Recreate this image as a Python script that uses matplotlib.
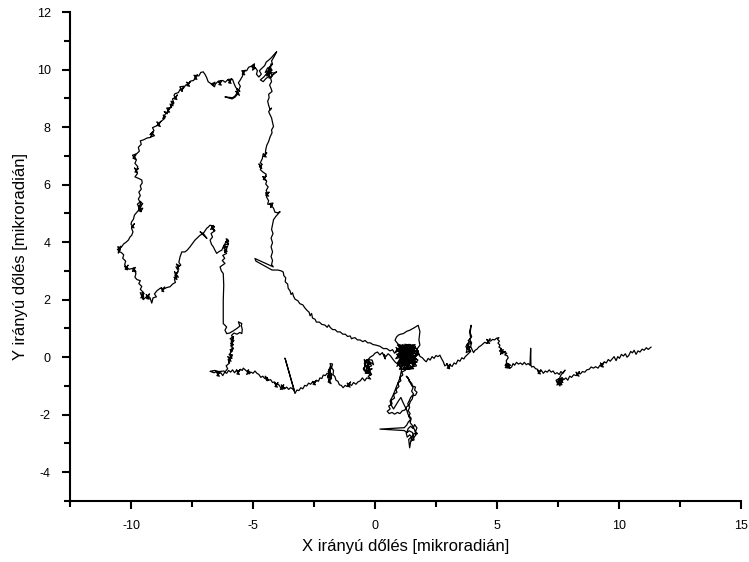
import numpy as np
import matplotlib
matplotlib.use("Agg")
import matplotlib.pyplot as plt
from matplotlib.ticker import MultipleLocator

plt.rcParams['font.family'] = ['Liberation Sans', 'DejaVu Sans']
plt.rcParams['axes.unicode_minus'] = False

# Tilt trajectory segments (x, y) in microradians
tail = [(11.31,0.35),(11.20,0.27),(11.12,0.33),(11.03,0.24),(10.95,0.28),(10.86,0.18),(10.78,0.22),
        (10.70,0.10),(10.62,0.24),(10.55,0.15),(10.48,0.20),(10.40,0.06),(10.33,0.0),(10.26,0.12),
        (10.18,0.04),(10.10,0.10),(10.02,-0.04),(9.95,0.02),(9.88,-0.12),(9.80,0.02),(9.72,-0.06),
        (9.64,-0.14),(9.56,-0.08),(9.48,-0.20),(9.40,-0.16),(9.32,-0.26),(9.38,-0.18),(9.26,-0.32),
        (9.36,-0.34),(9.24,-0.20),(9.30,-0.30),(9.22,-0.28),(9.14,-0.38),
        (9.04,-0.33),(8.95,-0.38),(8.86,-0.34),(8.78,-0.42),(8.68,-0.44),(8.60,-0.52),(8.50,-0.50),
        (8.42,-0.58),(8.32,-0.56),(8.38,-0.50),(8.26,-0.62),(8.36,-0.66),(8.24,-0.52),(8.30,-0.60),
        (8.25,-0.64),(8.14,-0.61),(8.06,-0.70),(7.98,-0.66),(7.90,-0.80),
        (7.82,-0.72),(7.74,-0.78),(7.66,-0.70),(7.60,-0.86),(7.52,-0.80),(7.46,-0.97),(7.60,-0.80),
        (7.48,-0.92),(7.66,-0.96),(7.52,-0.76),(7.70,-0.88),(7.44,-0.84),(7.58,-1.00),(7.62,-0.74),
        (7.56,-0.92),(7.50,-0.84),(7.64,-0.90),(7.70,-0.78),(7.58,-0.76),(7.66,-0.84),(7.48,-0.88),
        (7.42,-0.80),(7.56,-0.74),(7.62,-0.62),(7.79,-0.45),(7.70,-0.56),(7.62,-0.50),(7.55,-0.60),
        (7.46,-0.54),(7.38,-0.58),(7.30,-0.48),(7.22,-0.52),(7.14,-0.44),(7.06,-0.52),(6.98,-0.48),
        (6.90,-0.56),(6.82,-0.46),(6.74,-0.52),(6.80,-0.44),(6.68,-0.56),(6.78,-0.58),(6.66,-0.46),
        (6.72,-0.50),(6.66,-0.42),(6.58,-0.40),(6.50,-0.32),(6.42,-0.34),
        (6.39,-0.28),(6.38,0.31),(6.35,-0.28),(6.28,-0.22),(6.20,-0.26),(6.12,-0.18),(6.04,-0.26),
        (5.96,-0.20),(5.88,-0.24),(5.80,-0.18),(5.72,-0.28),(5.66,-0.22),(5.60,-0.34),(5.53,-0.38),
        (5.46,-0.26),(5.50,-0.34),(5.40,-0.36),(5.36,-0.24),(5.44,-0.30),(5.33,-0.28),(5.48,-0.22),
        (5.34,-0.36),(5.52,-0.38),(5.38,-0.20),(5.56,-0.28),(5.42,-0.32),(5.38,-0.12),(5.46,-0.02),
        (5.42,0.05),(5.32,0.08),(5.40,0.14),(5.28,0.16),(5.34,0.20),(5.22,0.18),(5.14,0.10),
        (5.26,0.26),(5.10,0.22),(5.24,0.12),(5.16,0.30),(5.14,0.24),(5.18,0.30),(5.08,0.35),
        (5.12,0.42),(5.04,0.49),(5.10,0.56),(5.02,0.62),(5.08,0.68),(4.98,0.66),(4.90,0.60),
        (4.82,0.62),(4.74,0.56),(4.66,0.58),(4.72,0.64),(4.60,0.50),(4.70,0.48),(4.58,0.62),
        (4.64,0.54),(4.58,0.48),(4.50,0.52),(4.42,0.46),(4.34,0.40),
        (4.26,0.36),(4.18,0.28),(4.10,0.24),(4.04,0.16),(3.98,0.26),(3.92,0.38),(3.96,0.50),
        (3.88,0.62),(3.96,0.72),(3.90,0.85),(3.94,1.11),(3.88,0.90),(3.92,0.66),(3.82,0.58),
        (3.94,0.48),(3.80,0.44),(3.90,0.34),(3.76,0.30),(3.88,0.22),(3.74,0.16),(3.84,0.52),
        (3.72,0.36),(3.86,0.28),(3.78,0.46),(3.92,0.20),(3.80,0.10),(3.70,0.02),(3.64,-0.06),
        (3.56,-0.02),(3.48,-0.14),(3.40,-0.10),(3.32,-0.24),(3.24,-0.20),(3.16,-0.32),(3.08,-0.28),
        (3.02,-0.36),(3.08,-0.24),(2.96,-0.38),(3.06,-0.40),(2.94,-0.22),(3.00,-0.30),
        (2.94,-0.26),(2.86,-0.30),(2.80,-0.16),(2.72,-0.04),(2.66,0.07),(2.58,0.02),
        (2.50,0.06),(2.42,-0.04),(2.34,0.02),(2.26,-0.10),(2.18,-0.04),(2.10,-0.16),(2.02,-0.10),
        (1.94,-0.02),(1.84,0.03)]

hub = [(1.84,0.03),(1.72,0.28),(1.84,0.42),(1.80,0.60),(1.84,0.89),(1.77,1.11),(1.60,1.02),
       (1.43,0.94),(1.30,0.90),(1.16,0.82),(1.05,0.80),(0.96,0.77),(0.88,0.70),(0.82,0.59),
       (0.95,0.45),(1.20,0.38),(1.05,0.20),(1.40,0.45),(1.55,0.12),(1.30,-0.08),(1.65,-0.22),
       (1.45,0.28),(1.10,-0.05),(1.25,0.42),(1.72,0.16),(1.50,-0.38),(1.20,-0.25),(1.62,0.32),
       (0.95,0.12),(1.36,0.22),(1.00,-0.30),(1.42,-0.42),(1.76,-0.10),(1.15,0.27),(0.85,-0.05),
       (1.30,0.06),(1.56,0.42),(1.05,0.36),(1.50,-0.16),(1.20,0.12),(0.90,0.28),(1.36,-0.30),
       (1.62,0.05),(1.10,-0.20),(1.48,0.36),(1.18,-0.42),(1.70,-0.30),(1.28,0.30),(0.92,-0.20),
       (1.58,0.20),(1.02,0.05),(1.44,-0.05),(1.22,0.45),(1.66,0.38),(1.34,-0.40),(0.98,0.38),
       (1.52,0.00),(1.12,0.18),(1.80,0.10),(1.26,-0.18),(1.40,0.12),(0.88,0.10),(1.60,-0.28),
       (1.18,0.32),(1.46,0.44),(1.06,-0.36),(1.74,0.30),(1.32,0.36),(0.84,0.20),(1.14,0.44),
       (1.68,-0.06),(1.02,-0.18),(1.38,0.40),(0.90,-0.32),(1.54,0.26),(1.28,-0.36),(1.78,0.22),
       (0.96,0.02),(1.46,-0.22),(1.16,0.06),(1.64,0.44),(1.08,0.30),(1.34,-0.14),(0.86,0.34),
       (1.72,-0.18),(1.24,0.20),(1.50,0.32),(1.00,-0.42),(1.58,-0.40),(1.20,-0.10),(1.42,0.28),
       (0.92,0.42),(1.66,0.00),(1.14,-0.30),(1.36,0.08),(1.56,-0.08),(1.04,0.24),(1.30,-0.26),
       (1.25,-0.45)]

branch = [(1.25,-0.45),(1.10,-0.52),(1.14,-0.62),(1.02,-0.70),(1.06,-0.82),(0.94,-0.90),(0.98,-1.02),
          (0.86,-1.12),(0.90,-1.22),(0.76,-1.30),(0.80,-1.42),(0.66,-1.50),(0.70,-1.62),(0.56,-1.70),
          (0.62,-1.80),(0.50,-1.88),(0.58,-1.96),(0.70,-1.92),(0.80,-1.98),(0.92,-1.92),(1.02,-1.96),
          (1.12,-1.86),(1.22,-1.84),(1.30,-1.72),(1.40,-1.66),(1.45,-1.54),(1.52,-1.46),(1.56,-1.34),
          (1.66,-1.32),(1.72,-1.22),(1.62,-1.14),(1.66,-1.04),(1.54,-1.00),(1.50,-0.90),(1.40,-0.84),
          (1.36,-0.72),(1.28,-0.66),(1.40,-0.78),(1.46,-0.92),(1.56,-1.06),(1.50,-1.18),(1.58,-1.28),
          (1.46,-1.40),(1.40,-1.52),(1.34,-1.62),(1.42,-1.74),(1.36,-1.86),(1.44,-1.96),(1.38,-2.06),
          (1.46,-2.16),(1.36,-2.26),(1.30,-2.36),(1.20,-2.45),(0.20,-2.50),(1.20,-2.55),(1.30,-2.62),
          (1.36,-2.48),(1.46,-2.40),(1.56,-2.48),(1.62,-2.34),(1.72,-2.46),(1.66,-2.58),(1.74,-2.66),
          (1.60,-2.66),(1.52,-2.78),(1.42,-2.70),(1.32,-2.78),(1.28,-2.64),(1.40,-2.56),(1.54,-2.62),
          (1.60,-2.88),(1.48,-2.90),(1.50,-2.76),(1.38,-2.86),(1.42,-3.15),(1.46,-2.94),(1.56,-2.82),
          (1.68,-2.70),(1.62,-2.52),(1.52,-2.36),(1.44,-2.28),(1.48,-2.12),(1.36,-2.00),(1.30,-1.84),
          (1.22,-1.70),(1.14,-1.56),(1.06,-1.40),(0.96,-1.52),(0.86,-1.66),(0.76,-1.80),(0.66,-1.66),
          (0.62,-1.52),(0.72,-1.36),(0.80,-1.20),(0.88,-1.02),(0.96,-0.86),(1.02,-0.72),(1.06,-0.56),
          (1.10,-0.40)]

lower = [(1.10,-0.40),(0.96,-0.26),(0.84,-0.18),(0.74,-0.08),(0.64,0.04),(0.54,0.12),(0.44,0.02),
         (0.36,0.10),(0.42,-0.06),(0.30,0.16),(0.20,0.08),(0.10,0.18),(0.00,0.14),(-0.08,0.06),
         (-0.20,0.00),(-0.30,-0.10),(-0.14,-0.30),(-0.36,-0.36),(-0.22,-0.14),(-0.44,-0.22),
         (-0.26,-0.46),(-0.12,-0.40),(-0.40,-0.56),(-0.30,-0.28),(-0.18,-0.62),(-0.46,-0.44),
         (-0.34,-0.08),(-0.12,-0.10),(-0.06,-0.26),(-0.18,-0.18),(-0.28,-0.30),(-0.20,-0.42),
         (-0.38,-0.50),(-0.30,-0.20),(-0.44,-0.08),(-0.40,-0.30),(-0.48,-0.40),(-0.34,-0.56),
         (-0.22,-0.48),(-0.14,-0.60),(-0.28,-0.66),(-0.18,-0.76),(-0.34,-0.72),(-0.42,-0.82),
         (-0.52,-0.72),(-0.60,-0.82),(-0.70,-0.86),(-0.78,-0.94),(-0.88,-0.88),(-0.96,-0.98),
         (-1.06,-0.94),(-1.00,-0.86),(-1.12,-1.00),(-1.02,-1.04),(-1.14,-0.90),(-1.06,-0.96),
         (-1.14,-1.02),(-1.22,-0.98),(-1.31,-1.06),(-1.38,-0.98),(-1.46,-0.96),
         (-1.52,-0.84),(-1.60,-0.80),(-1.64,-0.68),(-1.72,-0.60),(-1.70,-0.46),(-1.78,-0.36),
         (-1.74,-0.24),(-1.84,-0.22),(-1.80,-0.40),(-1.90,-0.46),(-1.82,-0.58),(-1.94,-0.66),
         (-1.84,-0.74),(-1.92,-0.86),(-1.80,-0.92),(-1.88,-0.78),(-1.76,-0.62),(-1.92,-0.50),
         (-1.82,-0.30),(-1.90,-0.84),(-1.78,-0.74),(-1.86,-0.42),(-1.94,-0.72),(-1.80,-0.56),
         (-1.86,-0.60),(-1.96,-0.56),(-2.04,-0.64),(-2.12,-0.62),(-2.18,-0.74),(-2.26,-0.72),
         (-2.32,-0.84),(-2.40,-0.80),(-2.48,-0.90),(-2.42,-0.82),(-2.54,-0.94),(-2.44,-0.96),
         (-2.56,-0.84),(-2.48,-0.88),(-2.56,-0.86),(-2.64,-0.94),(-2.72,-0.90),
         (-2.80,-1.00),(-2.88,-0.98),(-2.96,-1.10),(-3.04,-1.06),(-3.12,-1.16),(-3.20,-1.14),
         (-3.28,-1.26),(-3.69,-0.03),(-3.30,-1.18),(-3.38,-1.10),(-3.46,-1.06),(-3.54,-1.12),
         (-3.62,-1.04),(-3.72,-1.10),(-3.80,-1.02),(-3.74,-0.96),(-3.88,-1.12),(-3.70,-1.08),
         (-3.84,-0.96),(-3.78,-1.10),(-3.88,-1.04),(-3.96,-0.94),(-4.04,-0.96),(-3.98,-0.88),
         (-4.10,-1.02),(-4.00,-1.04),(-4.12,-0.90),(-4.04,-0.94),(-4.12,-0.86),
         (-4.20,-0.88),(-4.28,-0.78),(-4.36,-0.80),(-4.44,-0.70),(-4.38,-0.80),(-4.50,-0.66),
         (-4.42,-0.82),(-4.48,-0.74),(-4.52,-0.74),(-4.60,-0.66),(-4.68,-0.70),(-4.76,-0.60),
         (-4.84,-0.56),(-4.92,-0.48),(-5.00,-0.56),(-5.08,-0.52),(-5.16,-0.58),(-5.22,-0.46),
         (-5.12,-0.52),(-5.26,-0.60),(-5.18,-0.44),(-5.24,-0.50),(-5.32,-0.44),(-5.40,-0.38),
         (-5.44,-0.46),(-5.52,-0.42),(-5.60,-0.52),(-5.54,-0.44),(-5.66,-0.58),(-5.56,-0.60),
         (-5.68,-0.44),(-5.60,-0.50),(-5.68,-0.46),(-5.76,-0.54),(-5.84,-0.44),
         (-5.92,-0.52),(-6.00,-0.46),(-6.08,-0.56),(-6.16,-0.52),(-6.24,-0.64),(-6.32,-0.54),
         (-6.42,-0.58),(-6.36,-0.50),(-6.48,-0.64),(-6.38,-0.66),(-6.50,-0.52),(-6.42,-0.56),
         (-6.50,-0.50),(-6.60,-0.54),(-6.76,-0.49),(-6.56,-0.46),(-6.40,-0.50),
         (-6.20,-0.48)]

inner = [(-6.15,-0.51),(-6.04,-0.40),(-6.10,-0.30),(-5.96,-0.20),(-6.02,-0.08),(-5.90,-0.14),
         (-6.04,0.02),(-5.86,-0.04),(-5.98,0.10),(-5.84,0.08),(-6.00,-0.18),(-5.88,0.02),
         (-5.94,0.14),(-5.84,0.22),(-5.94,0.26),(-5.80,0.30),(-5.92,0.20),(-5.82,0.34),
         (-5.90,0.36),(-5.80,0.44),(-5.92,0.48),(-5.78,0.58),(-5.94,0.64),
         (-5.80,0.72),(-5.90,0.40),(-5.82,0.54),(-5.90,0.56),(-5.82,0.66),(-5.88,0.76),
         (-5.78,0.84),(-5.66,0.80),(-5.54,0.86),(-5.46,0.82),(-5.44,0.96),(-5.48,1.10),(-5.46,1.17),
         (-5.60,1.23),(-5.54,1.08),(-5.66,1.00),(-5.80,0.92),(-5.96,0.84),(-6.08,0.82),(-6.15,0.94),
         (-6.08,1.05),(-6.22,1.17),(-6.22,1.52),(-6.22,1.98),(-6.20,2.50),(-6.22,2.91),(-6.30,3.00),
         (-6.35,3.14),(-6.15,3.26),(-6.26,3.36),(-6.16,3.44),(-6.24,3.54),(-6.08,3.61),(-6.18,3.72),
         (-6.06,3.68),(-6.20,3.80),(-6.04,3.86),(-6.16,3.64),(-6.08,3.76),(-6.10,3.80),(-6.18,3.88),
         (-6.02,3.95),(-6.12,4.02),(-6.00,4.04),(-6.10,4.12),(-6.02,3.90),(-6.04,4.10),(-6.14,3.96),
         (-6.22,3.84),(-6.28,3.72),(-6.38,3.68),(-6.49,3.61),(-6.56,3.72),(-6.63,3.84),(-6.70,3.92),
         (-6.76,4.07),(-6.66,4.18),(-6.72,4.30),(-6.56,4.40),(-6.66,4.46),(-6.58,4.40),(-6.70,4.54),
         (-6.62,4.58),(-6.74,4.44),(-6.60,4.50),(-6.58,4.54),(-6.76,4.59),(-6.84,4.52),(-6.90,4.48),
         (-7.04,4.30),(-6.89,4.13),(-7.17,4.36),(-7.04,4.30),(-7.17,4.24),(-7.38,4.07),(-7.58,3.84),
         (-7.70,3.72),(-7.79,3.66),(-7.92,3.66),(-7.99,3.49),(-8.04,3.30),(-7.96,3.20),(-8.10,3.12),
         (-8.02,3.18),(-8.14,3.24),(-8.04,3.06),(-8.16,3.14),
         (-8.06,3.00),(-8.16,2.90),(-8.08,2.96),(-8.20,2.84),(-8.06,2.78),(-8.22,2.98),(-8.12,2.70),
         (-8.24,2.78),(-8.12,2.80),(-8.22,2.70),(-8.18,2.60),(-8.30,2.54),(-8.40,2.45),(-8.54,2.42),
         (-8.68,2.36),(-8.62,2.44),(-8.74,2.30),(-8.66,2.28),(-8.76,2.42),(-8.70,2.36),
         (-8.80,2.40),(-8.95,2.30),(-9.04,2.20),(-8.96,2.10),(-9.10,2.06),(-9.15,1.88),
         (-9.22,2.06),(-9.30,2.14),(-9.24,2.20),(-9.36,2.04),(-9.26,2.02),(-9.38,2.18),(-9.30,2.12),
         (-9.40,2.08),(-9.50,2.00),(-9.56,2.16),(-9.48,2.10),(-9.60,2.06),
         (-9.46,2.22),(-9.62,2.24),(-9.52,2.04),(-9.50,2.26),(-9.62,2.36),(-9.56,2.46),(-9.68,2.56),
         (-9.62,2.66),(-9.76,2.70),(-9.84,2.78),(-9.80,2.90),(-9.86,3.04),(-9.80,2.96),(-9.92,3.10),
         (-9.82,3.12),(-9.94,2.98),(-9.86,3.02),(-9.96,3.08),(-10.08,3.06),
         (-10.18,3.12),(-10.12,3.20),(-10.24,3.06),(-10.14,3.04),(-10.26,3.16),(-10.18,3.10),
         (-10.26,3.22),(-10.22,3.34),(-10.34,3.44),(-10.30,3.56),(-10.40,3.64),
         (-10.52,3.68),(-10.46,3.78),(-10.54,3.84),(-10.44,3.72),(-10.56,3.74),(-10.42,3.86),
         (-10.52,3.62),(-10.48,3.80),(-10.40,3.82),(-10.30,3.94),(-10.20,4.00),(-10.11,4.07),
         (-10.04,4.18),(-9.97,4.24),(-9.92,4.36),(-9.98,4.48),(-9.92,4.58),(-9.86,4.64),
         (-9.98,4.52),(-9.88,4.50),(-10.00,4.62),(-9.98,4.70),(-9.90,4.80),
         (-9.86,4.94),(-9.78,5.02),(-9.70,5.10),(-9.60,5.06),(-9.52,5.18),(-9.64,5.14),(-9.56,5.30),
         (-9.70,5.24),(-9.58,5.06),(-9.74,5.32),(-9.60,5.42),(-9.68,5.12),(-9.62,5.26),(-9.52,5.34),
         (-9.64,5.40),(-9.70,5.50),(-9.62,5.62),(-9.68,5.74),(-9.58,5.84),(-9.62,5.96),(-9.54,6.06),
         (-9.56,6.16)]

outer = [(-9.56,6.16),(-9.70,6.22),(-9.84,6.27),(-9.74,6.38),(-9.80,6.50),(-9.70,6.56),(-9.84,6.44),
         (-9.74,6.42),(-9.86,6.58),(-9.78,6.50),(-9.72,6.62),(-9.84,6.74),
         (-9.78,6.86),(-9.86,6.98),(-9.80,7.04),(-9.92,6.92),(-9.82,6.88),(-9.94,7.02),
         (-9.76,7.08),(-9.66,7.16),(-9.70,7.30),(-9.58,7.40),(-9.62,7.52),
         (-9.48,7.56),(-9.34,7.62),(-9.20,7.64),(-9.14,7.78),(-9.04,7.70),(-9.18,7.66),(-9.08,7.84),
         (-9.22,7.74),(-9.06,7.88),(-9.12,7.98),(-8.96,8.04),(-8.84,8.12),(-8.78,8.20),(-8.92,8.06),
         (-8.80,8.02),(-8.94,8.18),(-8.86,8.12),(-8.74,8.22),(-8.62,8.30),
         (-8.68,8.42),(-8.58,8.36),(-8.70,8.30),(-8.56,8.50),(-8.64,8.54),(-8.52,8.46),(-8.46,8.60),
         (-8.40,8.68),(-8.52,8.54),(-8.42,8.52),(-8.54,8.66),
         (-8.34,8.68),(-8.40,8.80),(-8.28,8.74),(-8.36,8.90),(-8.24,8.84),(-8.38,8.70),(-8.26,8.86),
         (-8.30,8.98),(-8.16,9.04),(-8.10,9.12),(-8.22,8.98),(-8.12,8.96),(-8.24,9.10),
         (-8.20,9.16),(-8.06,9.20),(-7.98,9.32),(-7.90,9.24),(-8.00,9.40),
         (-7.84,9.42),(-7.94,9.28),(-7.86,9.34),(-7.76,9.46),(-7.64,9.50),(-7.58,9.58),(-7.70,9.44),
         (-7.60,9.42),(-7.72,9.56),(-7.64,9.50),(-7.56,9.60),(-7.44,9.62),
         (-7.34,9.74),(-7.28,9.82),(-7.40,9.68),(-7.30,9.66),(-7.42,9.80),
         (-7.22,9.78),(-7.14,9.90),(-7.04,9.92),(-6.96,9.82),(-6.90,9.72),(-6.84,9.58),
         (-6.74,9.52),(-6.64,9.44),(-6.56,9.56),(-6.70,9.50),(-6.58,9.40),(-6.54,9.50),(-6.44,9.58),
         (-6.34,9.54),(-6.28,9.62),(-6.40,9.48),(-6.30,9.46),(-6.42,9.60),
         (-6.24,9.62),(-6.14,9.56),(-6.04,9.64),(-5.94,9.60),(-5.88,9.68),(-6.00,9.54),(-5.90,9.52),
         (-6.02,9.66),(-5.84,9.66),(-5.78,9.52),
         (-5.72,9.40),(-5.64,9.30),(-5.66,9.18),(-5.74,9.08),(-5.84,9.02),(-6.15,9.05),(-5.86,8.98),
         (-5.74,9.04),(-5.62,9.16),(-5.70,9.24),(-5.56,9.10),(-5.66,9.34),(-5.54,9.24),(-5.58,9.30),
         (-5.52,9.42),(-5.60,9.54),(-5.52,9.64),(-5.44,9.76),(-5.38,9.90),(-5.32,9.98),(-5.44,9.84),
         (-5.34,9.82),(-5.46,9.96),(-5.26,9.96),(-5.18,10.08),
         (-5.06,10.12),(-4.98,10.18),(-4.92,10.04),(-5.04,10.08),(-4.94,10.20),(-5.02,9.98),
         (-4.90,10.06),(-4.82,9.96),(-4.86,9.84),(-4.76,9.74),(-4.66,9.84),(-4.74,9.96),(-4.62,10.06),
         (-4.52,10.14),(-4.46,10.26),(-4.34,10.34),(-4.24,10.42),(-4.16,10.50),(-4.03,10.62),
         (-4.14,10.44),(-4.24,10.30),(-4.20,10.18),(-4.34,10.08),(-4.28,9.96),(-4.40,9.88),
         (-4.36,9.76),(-4.48,9.68),(-4.58,9.58),(-4.70,9.64),(-4.56,9.74),(-4.46,9.84),(-4.36,9.96),
         (-4.50,9.90),(-4.40,10.06),(-4.28,9.92),(-4.44,9.78),(-4.32,10.10),(-4.22,9.98),(-4.38,9.84),
         (-4.26,10.20),(-4.34,9.70),(-4.20,9.80),(-4.30,9.90),(-4.16,9.88),(-4.03,9.92),(-4.18,9.82),
         (-4.28,9.70),(-4.24,9.58),(-4.32,9.46),(-4.26,9.34),(-4.22,9.24),(-4.36,9.14),(-4.34,9.02),
         (-4.40,8.90),(-4.36,8.76),(-4.30,8.60),(-4.24,8.66),(-4.36,8.54),(-4.32,8.46),(-4.24,8.32),
         (-4.20,8.16),(-4.16,8.02),
         (-4.24,7.90),(-4.22,7.80),(-4.30,7.66),(-4.36,7.50),(-4.44,7.36),(-4.48,7.20),(-4.50,7.04),
         (-4.44,7.10),(-4.56,6.98),(-4.46,6.96),(-4.58,7.08),
         (-4.62,6.90),(-4.70,6.76),(-4.62,6.70),(-4.74,6.62),(-4.64,6.56),(-4.76,6.72),(-4.66,6.64),
         (-4.70,6.52),(-4.60,6.44),(-4.46,6.36),(-4.52,6.24),(-4.46,6.30),(-4.58,6.18),(-4.48,6.16),
         (-4.60,6.28),(-4.44,6.12),(-4.48,6.02),(-4.38,5.92),
         (-4.46,5.80),(-4.40,5.68),(-4.34,5.74),(-4.46,5.62),(-4.36,5.60),(-4.48,5.72),
         (-4.44,5.56),(-4.36,5.44),(-4.40,5.32),(-4.22,5.30),(-4.28,5.20),
         (-4.18,5.36),(-4.32,5.34),(-4.20,5.22),(-4.16,5.18),(-4.10,5.04),(-3.98,5.02),(-3.89,5.06),
         (-4.06,4.90),(-4.16,4.78),(-4.20,4.60),(-4.24,4.44),(-4.18,4.30),(-4.26,4.14),(-4.20,3.98),
         (-4.26,3.84),(-4.20,3.66),(-4.26,3.50),(-4.20,3.36),(-4.24,3.22),(-4.17,3.14),(-4.92,3.43),
         (-4.88,3.34),(-4.22,3.03),(-3.98,3.03)]

arc = [(-3.98,3.03),(-3.84,3.00),(-3.76,2.96),(-3.74,2.84),(-3.66,2.76),(-3.68,2.62),(-3.58,2.54),
       (-3.56,2.40),(-3.48,2.30),(-3.44,2.18),(-3.38,2.24),(-3.34,2.12),(-3.28,2.02),(-3.16,1.96),
       (-3.08,1.86),(-2.96,1.82),(-2.88,1.72),(-2.80,1.64),(-2.70,1.56),(-2.66,1.44),(-2.60,1.52),
       (-2.56,1.36),(-2.46,1.32),(-2.40,1.22),(-2.28,1.22),(-2.18,1.14),(-2.06,1.12),(-1.96,1.04),
       (-1.90,1.12),(-1.84,1.04),(-1.74,0.96),(-1.64,0.96),(-1.54,0.88),(-1.43,0.88),(-1.32,0.80),
       (-1.22,0.80),(-1.12,0.72),(-1.02,0.74),(-0.96,0.64),(-0.92,0.66),(-0.82,0.68),(-0.72,0.60),
       (-0.61,0.60),(-0.50,0.54),(-0.41,0.58),(-0.30,0.50),(-0.20,0.50),(-0.08,0.44),(0.04,0.42),
       (0.20,0.38),(0.34,0.30),(0.48,0.30),(0.61,0.22),(0.72,0.26),(0.80,0.14),(0.90,0.20)]

segments = [tail, hub, branch, lower, inner, outer, arc]

fig = plt.figure(figsize=(7.49, 5.62), dpi=100)
ax = fig.add_axes([0.0935, 0.1085, 0.8958, 0.8701])

path = np.concatenate([np.array(s) for s in segments])
ax.plot(path[:, 0], path[:, 1], color='black', lw=0.9)

ax.set_xlim(-12.5, 15)
ax.set_ylim(-5, 12)
ax.xaxis.set_major_locator(MultipleLocator(5))
ax.xaxis.set_minor_locator(MultipleLocator(2.5))
ax.yaxis.set_major_locator(MultipleLocator(2))
ax.yaxis.set_minor_locator(MultipleLocator(1))

for s in ['top', 'right']:
    ax.spines[s].set_visible(False)
for s in ['left', 'bottom']:
    ax.spines[s].set_linewidth(1.5)
ax.tick_params(which='major', direction='out', length=6, width=1.5, labelsize=9, pad=8)
ax.tick_params(which='minor', direction='out', length=4, width=1.5)

ax.set_xlabel('X irányú dőlés [mikroradián]', fontsize=12, labelpad=5)
ax.set_ylabel('Y irányú dőlés [mikroradián]', fontsize=12, labelpad=6)

fig.savefig('out.png', dpi=100)
